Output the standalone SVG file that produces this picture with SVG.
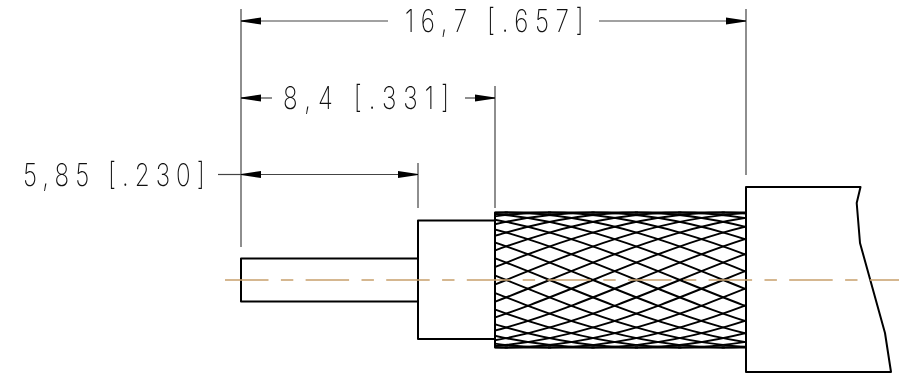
<svg xmlns="http://www.w3.org/2000/svg" width="899" height="379" viewBox="0 0 899 379">
<style>
.o{fill:none;stroke:#000;stroke-width:2;stroke-linejoin:round}
.d{fill:none;stroke:#444;stroke-width:1.2}
.m{fill:none;stroke:#000;stroke-width:1.9}
.c{fill:none;stroke:#c8a06c;stroke-width:1.3;stroke-dasharray:43.5 12.4 12.4 12.3}
.t{font-family:"Inter","Liberation Sans",sans-serif;font-weight:200;font-size:31px;fill:#111}
</style>
<defs>
<filter id="g" x="0" y="0" width="1" height="1" filterUnits="objectBoundingBox"><feOffset dx="0" dy="0"/></filter>
<marker id="a" markerUnits="userSpaceOnUse" markerWidth="20" markerHeight="9" refX="20" refY="4.500" orient="auto-start-reverse"><path d="M0 1L20 4L20 5L0 8z" fill="#000"/></marker>
<clipPath id="bc"><rect x="495" y="211" width="251" height="138"/></clipPath>
<path id="dn" d="M0 212.500c191 0 333 135 524 135M43.400 212.500c191 0 333 135 524 135M86.800 212.500c191 0 333 135 524 135M130.200 212.500c191 0 333 135 524 135M173.600 212.500c191 0 333 135 524 135M217 212.500c191 0 333 135 524 135M260.400 212.500c191 0 333 135 524 135M303.800 212.500c191 0 333 135 524 135M347.200 212.500c191 0 333 135 524 135M390.600 212.500c191 0 333 135 524 135M434 212.500c191 0 333 135 524 135M477.400 212.500c191 0 333 135 524 135M520.800 212.500c191 0 333 135 524 135M564.200 212.500c191 0 333 135 524 135M607.600 212.500c191 0 333 135 524 135M651 212.500c191 0 333 135 524 135M694.400 212.500c191 0 333 135 524 135M737.800 212.500c191 0 333 135 524 135"/>
<path id="up" d="M0 347.500c191 0 333 -135 524 -135M43.400 347.500c191 0 333 -135 524 -135M86.800 347.500c191 0 333 -135 524 -135M130.200 347.500c191 0 333 -135 524 -135M173.600 347.500c191 0 333 -135 524 -135M217 347.500c191 0 333 -135 524 -135M260.400 347.500c191 0 333 -135 524 -135M303.800 347.500c191 0 333 -135 524 -135M347.200 347.500c191 0 333 -135 524 -135M390.600 347.500c191 0 333 -135 524 -135M434 347.500c191 0 333 -135 524 -135M477.400 347.500c191 0 333 -135 524 -135M520.800 347.500c191 0 333 -135 524 -135M564.200 347.500c191 0 333 -135 524 -135M607.600 347.500c191 0 333 -135 524 -135M651 347.500c191 0 333 -135 524 -135M694.400 347.500c191 0 333 -135 524 -135M737.800 347.500c191 0 333 -135 524 -135"/>
</defs>
<g id="pin"><path class="o" d="M418 258.500H241V301.500H418"/></g>
<g id="ferrule"><path class="o" d="M495 220.500H418V339H495"/></g>
<g id="braid">
<g clip-path="url(#bc)"><g class="m" transform="translate(-16.2 0)"><use href="#dn"/><use href="#up"/></g></g>
<path class="o" d="M495 212.500H746V347.500H495z"/>
</g>
<g id="jacket"><path class="o" d="M746 187H860.500L856.700 203L860 243L885 333L891 372H746z"/></g>
<path id="centerline" class="c" d="M225 280H899"/>
<g id="connectors">
<path class="d" d="M241 9V247M418 163V208M495 86V208M746 9V175"/>
<path class="d" marker-start="url(#a)" d="M241 21H388"/>
<path class="d" marker-end="url(#a)" d="M599 21H746"/>
<path class="d" marker-start="url(#a)" d="M241 98H272"/>
<path class="d" marker-end="url(#a)" d="M465 98H495"/>
<path class="d" marker-start="url(#a)" marker-end="url(#a)" d="M241 174.500H418"/>
<path class="d" d="M218 174.500H241"/>
</g>
<g id="dim-16-7" filter="url(#g)"><text class="t" transform="translate(405 32) scale(.78 1)" textLength="229">16,7 [.657]</text></g>
<g id="dim-8-4" filter="url(#g)"><text class="t" transform="translate(283 109) scale(.78 1)" textLength="213">8,4 [.331]</text></g>
<g id="dim-5-85" filter="url(#g)"><text class="t" transform="translate(23 186) scale(.78 1)" textLength="233">5,85 [.230]</text></g>
</svg>
